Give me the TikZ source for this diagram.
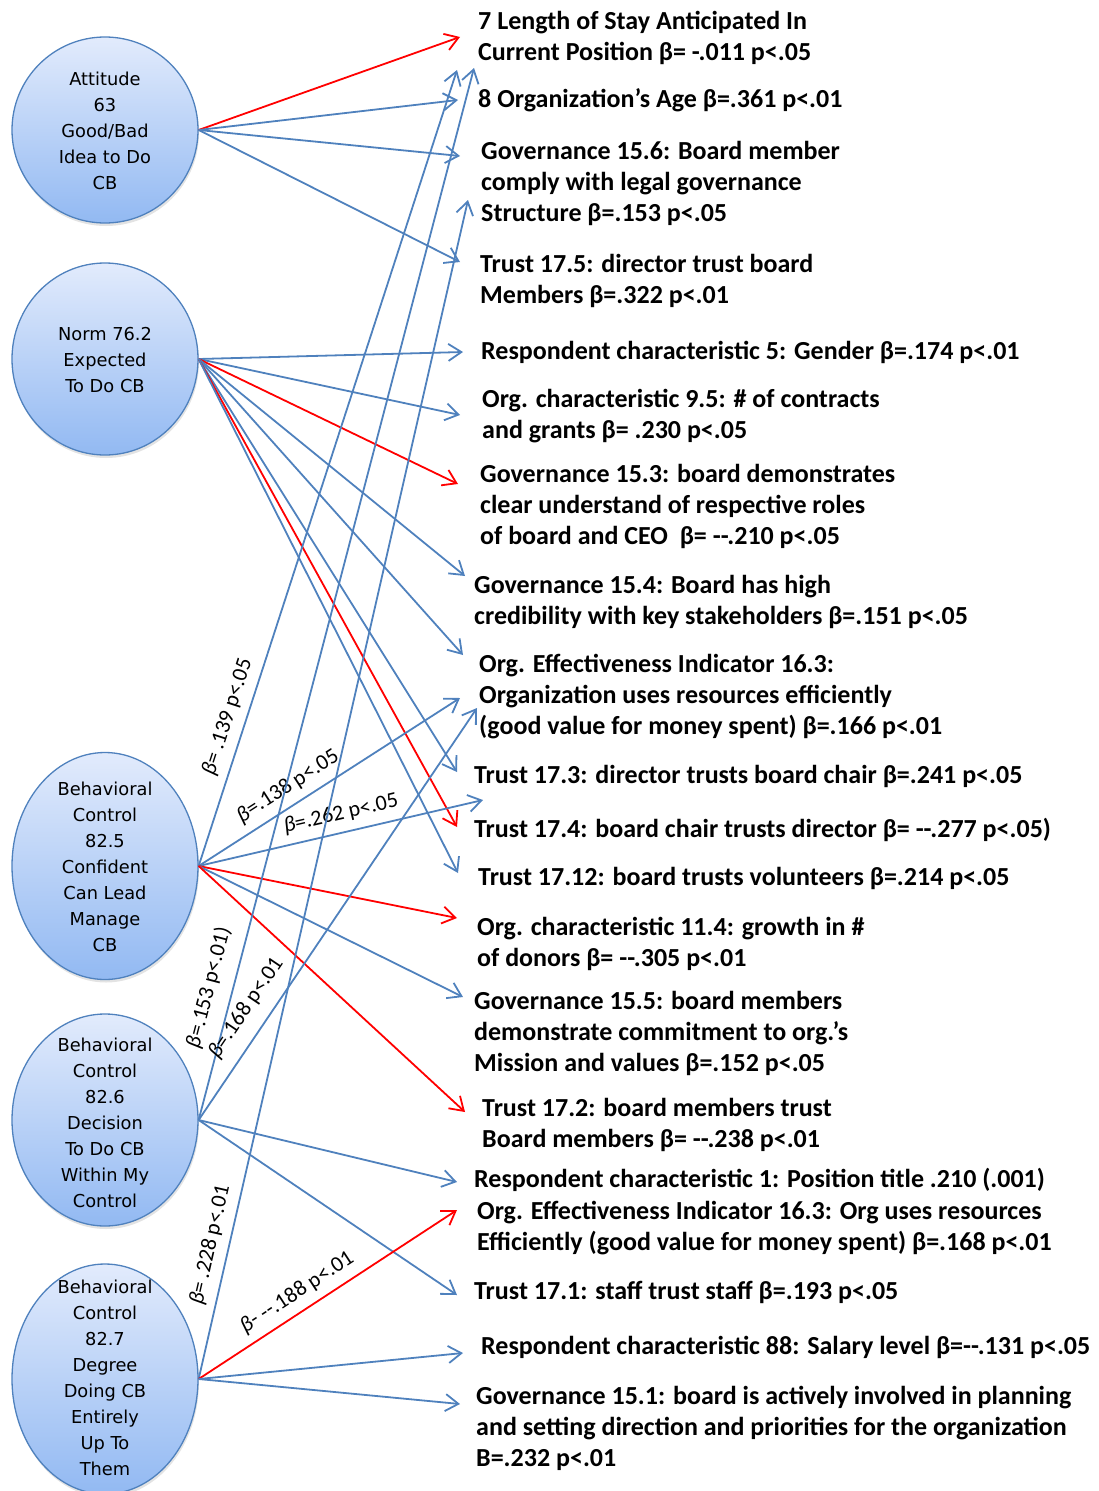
\documentclass[tikz,border=0pt]{standalone}
\usepackage{fontspec}
\setmainfont{Carlito}
\newfontfamily\ovalfont{DejaVu Sans}
\usetikzlibrary{arrows.meta,shapes.geometric,shadows}

\definecolor{linkblue}{RGB}{79,129,189}
\definecolor{linkred}{RGB}{255,0,0}
\definecolor{ovaltop}{RGB}{226,235,252}
\definecolor{ovalbot}{RGB}{146,185,242}

\newcommand{\bt}{β}
\newcommand{\ibt}{{\itshape β}}

\begin{document}
\begin{tikzpicture}[x=1pt,y=-1pt,
  construct/.style={ellipse, draw=linkblue, line width=1.3pt,
    top color=ovaltop, bottom color=ovalbot, minimum width=186pt,
    inner sep=0pt,
    drop shadow={opacity=0.22, shadow xshift=1pt, shadow yshift=-3pt}},
  ovaltext/.style={font=\ovalfont\fontsize{17.8}{26}\selectfont,
    align=center, inner sep=0pt},
  outcome/.style={anchor=north west, align=left, inner sep=0pt,
    font=\bfseries\fontsize{26}{31}\selectfont},
  link/.style={line width=1.8pt,
    -{Straight Barb[length=13pt,width=17pt,line width=1.8pt]}},
  pos link/.style={link, draw=linkblue},
  neg link/.style={link, draw=linkred},
  coef/.style={sloped, above=7pt, inner sep=1pt,
    font=\fontsize{22}{26}\selectfont, text=black},
]
\useasboundingbox (0,0) rectangle (1099,1491);

% ---- predictor ovals ----
\node[construct, minimum height=186pt] (att) at (105,130) {};
\node[ovaltext] (att-text) at (105,131) {Attitude\\63\\Good/Bad\\Idea to Do\\CB};

\node[construct, minimum height=192pt] (norm) at (105,359) {};
\node[ovaltext] (norm-text) at (105,360) {Norm 76.2\\Expected\\To Do CB};

\node[construct, minimum height=227pt] (b5) at (105,866) {};
\node[ovaltext] (b5-text) at (105,867) {Behavioral\\Control\\82.5\\Confident\\Can Lead\\Manage\\CB};

\node[construct, minimum height=212pt] (b6) at (105,1120) {};
\node[ovaltext] (b6-text) at (105,1123) {Behavioral\\Control\\82.6\\Decision\\To Do CB\\Within My\\Control};

\node[construct, minimum height=230pt] (b7) at (105,1379) {};
\node[ovaltext] (b7-text) at (105,1378) {Behavioral\\Control\\82.7\\Degree\\Doing CB\\Entirely\\Up To\\Them};

% ---- outcome texts ----
\node[outcome] (len) at (478,8) {\strut 7 Length of Stay Anticipated In\\Current Position \bt= -.011 p<.05};
\node[outcome] (age) at (478,86) {\strut 8 Organization’s Age \bt=.361 p<.01};
\node[outcome] (g156) at (481,138) {\strut Governance 15.6: Board member\\comply with legal governance\\Structure \bt=.153 p<.05};
\node[outcome] (t175) at (480,251) {\strut Trust 17.5: director trust board\\Members \bt=.322 p<.01};
\node[outcome] (rc5) at (481,338) {\strut Respondent characteristic 5: Gender \bt=.174 p<.01};
\node[outcome] (oc95) at (482,386) {\strut Org. characteristic 9.5: \# of contracts\\and grants \bt= .230 p<.05};
\node[outcome] (g153) at (480,461) {\strut Governance 15.3: board demonstrates\\clear understand of respective roles\\of board and CEO\ \ \bt= -{}-.210 p<.05};
\node[outcome] (g154) at (474,572) {\strut Governance 15.4: Board has high\\credibility with key stakeholders \bt=.151 p<.05};
\node[outcome] (oe163) at (479,651) {\strut Org. Effectiveness Indicator 16.3:\\Organization uses resources efficiently\\(good value for money spent) \bt=.166 p<.01};
\node[outcome] (t173) at (474,762) {\strut Trust 17.3: director trusts board chair \bt=.241 p<.05};
\node[outcome] (t174) at (474,816) {\strut Trust 17.4: board chair trusts director \bt= -{}-.277 p<.05)};
\node[outcome] (t1712) at (478,864) {\strut Trust 17.12: board trusts volunteers \bt=.214 p<.05};
\node[outcome] (oc114) at (477,914) {\strut Org. characteristic 11.4: growth in \#\\of donors \bt= -{}-.305 p<.01};
\node[outcome] (g155) at (474,988) {\strut Governance 15.5: board members\\demonstrate commitment to org.’s\\Mission and values \bt=.152 p<.05};
\node[outcome] (t172) at (482,1095) {\strut Trust 17.2: board members trust\\Board members \bt= -{}-.238 p<.01};
\node[outcome] (rc1) at (474,1166) {\strut Respondent characteristic 1: Position title .210 (.001)};
\node[outcome] (oe163b) at (477,1198) {\strut Org. Effectiveness Indicator 16.3: Org uses resources\\Efficiently (good value for money spent) \bt=.168 p<.01};
\node[outcome] (t171) at (474,1278) {\strut Trust 17.1: staff trust staff \bt=.193 p<.05};
\node[outcome] (rc88) at (481,1333) {\strut Respondent characteristic 88: Salary level \bt=-{}-.131 p<.05};
\node[outcome] (g151) at (476,1383) {\strut Governance 15.1: board is actively involved in planning\\and setting direction and priorities for the organization\\B=.232 p<.01};

% ---- arrow tips beside the outcome texts ----
\coordinate (len-a) at (460,37);
\coordinate (len-b) at (457,70);
\coordinate (len-c) at (474,68);
\coordinate (age-a) at (458,100);
\coordinate (g156-a) at (460,156);
\coordinate (g156-b) at (468,200);
\coordinate (t175-a) at (460,262);
\coordinate (rc5-a) at (463,352);
\coordinate (oc95-a) at (460,415);
\coordinate (g153-a) at (458,484);
\coordinate (g154-a) at (465,576);
\coordinate (oe163-a) at (463,655);
\coordinate (oe163-b) at (460,698);
\coordinate (oe163-c) at (477,708);
\coordinate (t173-a) at (457,772);
\coordinate (t173-b) at (483,800);
\coordinate (t174-a) at (457,827);
\coordinate (t1712-a) at (458,873);
\coordinate (oc114-a) at (457,918);
\coordinate (g155-a) at (463,997);
\coordinate (t172-a) at (465,1112);
\coordinate (rc1-a) at (457,1182);
\coordinate (oe163b-a) at (457,1210);
\coordinate (t171-a) at (457,1295);
\coordinate (rc88-a) at (463,1353);
\coordinate (g151-a) at (460,1404);

% ---- attitude ----
\draw[neg link] (att.east) -- (len-a);
\draw[pos link] (att.east) -- (age-a);
\draw[pos link] (att.east) -- (g156-a);
\draw[pos link] (att.east) -- (t175-a);

% ---- norm ----
\draw[pos link] (norm.east) -- (rc5-a);
\draw[pos link] (norm.east) -- (oc95-a);
\draw[neg link] (norm.east) -- (g153-a);
\draw[pos link] (norm.east) -- (g154-a);
\draw[pos link] (norm.east) -- (oe163-a);
\draw[pos link] (norm.east) -- (t173-a);
\draw[neg link] (norm.east) -- (t174-a);
\draw[pos link] (norm.east) -- (t1712-a);

% ---- behavioral control 82.5 ----
\draw[pos link] (b5.east) -- node[coef, pos=0.18] {\ibt= .139 p<.05} (len-b);
\draw[pos link] (b5.east) -- node[coef, pos=0.38] {\ibt=.138 p<.05} (oe163-b);
\draw[pos link] (b5.east) -- node[coef, pos=0.515] {\ibt=.262 p<.05} (t173-b);
\draw[neg link] (b5.east) -- (oc114-a);
\draw[pos link] (b5.east) -- (g155-a);
\draw[neg link] (b5.east) -- (t172-a);

% ---- behavioral control 82.6 ----
\draw[pos link] (b6.east) -- node[coef, pos=0.12, above=5pt] {\ibt=.153 p<.01)} (len-c);
\draw[pos link] (b6.east) -- node[coef, pos=0.24, above=5pt] {\ibt=.168 p<.01} (oe163-c);
\draw[pos link] (b6.east) -- (rc1-a);
\draw[pos link] (b6.east) -- (t171-a);

% ---- behavioral control 82.7 ----
\draw[pos link] (b7.east) -- node[coef, pos=0.11] {\ibt= .228 p<.01} (g156-b);
\draw[neg link] (b7.east) -- node[coef, pos=0.42] {\ibt- -{}-.188 p<.01} (oe163b-a);
\draw[pos link] (b7.east) -- (rc88-a);
\draw[pos link] (b7.east) -- (g151-a);
\end{tikzpicture}
\end{document}
